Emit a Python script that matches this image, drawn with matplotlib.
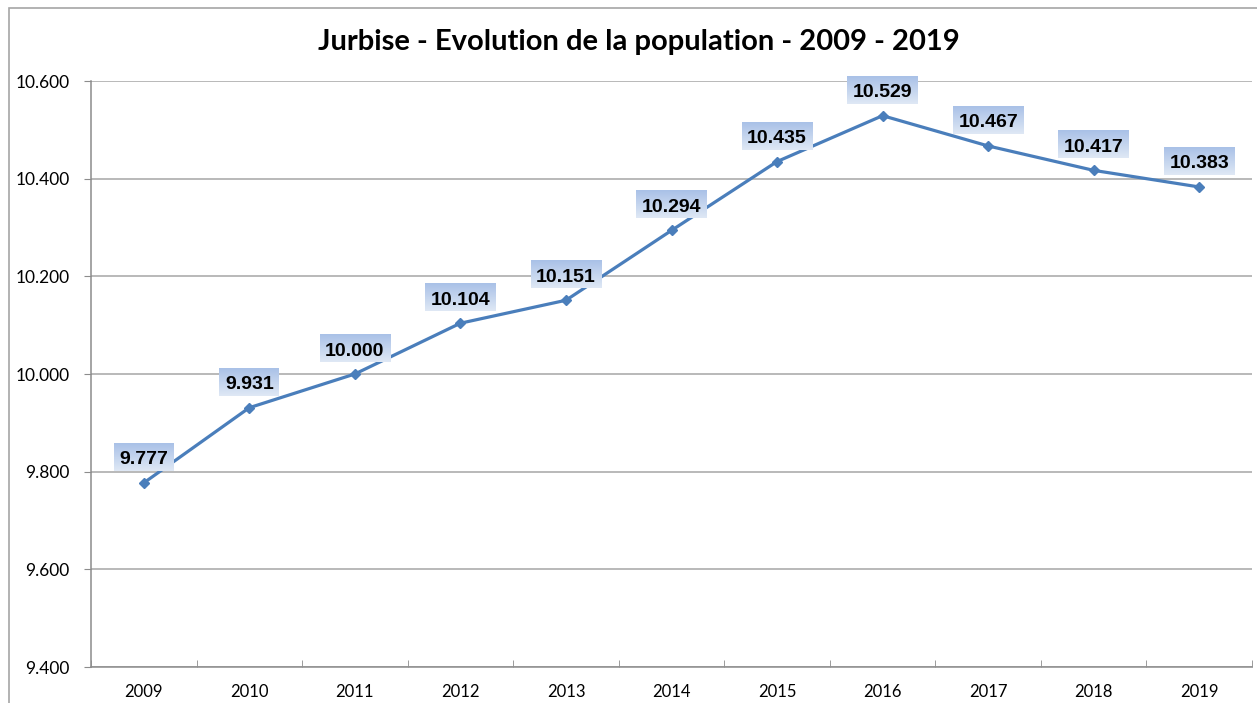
import matplotlib
matplotlib.use("Agg")
import matplotlib.pyplot as plt
import numpy as np
from matplotlib.patches import Rectangle
from matplotlib.ticker import FuncFormatter, FixedLocator
from matplotlib.colors import LinearSegmentedColormap

years = ["2009", "2010", "2011", "2012", "2013", "2014", "2015", "2016", "2017", "2018", "2019"]
population = [9777, 9931, 10000, 10104, 10151, 10294, 10435, 10529, 10467, 10417, 10383]
title = "Jurbise - Evolution de la population - 2009 - 2019"

def fmt(v):
    return f"{int(round(v)):,}".replace(",", ".")

W, H = 1257, 703
fig = plt.figure(figsize=(W / 100, H / 100), dpi=100)
fig.patch.set_facecolor("white")

fig.patches.append(Rectangle((9 / W, -0.01), 1.02, 1 - 8 / H + 0.01, transform=fig.transFigure,
                             fill=False, edgecolor="#a6a6a6", linewidth=1.2))

left, right, top, bottom = 91, 1252, 81, 667
ax = fig.add_axes([left / W, 1 - bottom / H, (right - left) / W, (bottom - top) / H])

x = list(range(len(years)))
ax.plot(x, population, color="#4a7ebb", linewidth=2.3, marker="D", markersize=5.5,
        markerfacecolor="#4a7ebb", markeredgecolor="#4a7ebb", zorder=3)

xlim = (-0.5, len(years) - 0.5)
ylim = (9400, 10600)
ax.set_xlim(*xlim)
ax.set_ylim(*ylim)
ax.yaxis.set_major_locator(FixedLocator([9400, 9600, 9800, 10000, 10200, 10400, 10600]))
ax.yaxis.set_major_formatter(FuncFormatter(lambda v, p: fmt(v)))
ax.set_xticks(x)
ax.set_xticklabels(years)
ax.set_xticks([i - 0.5 for i in range(len(years) + 1)], minor=True)
ax.tick_params(axis="x", which="major", length=0, pad=12, labelsize=12)
ax.tick_params(axis="x", which="minor", length=5, color="#8c8c8c", direction="in")
ax.tick_params(axis="y", length=5, color="#8c8c8c", pad=10.5, labelsize=12.5)
for lab in ax.get_xticklabels() + ax.get_yticklabels():
    lab.set_fontfamily("Lato")

ax.grid(axis="y", color="#a6a6a6", linewidth=1.1, zorder=0)
ax.set_axisbelow(True)
for s in ["top", "right"]:
    ax.spines[s].set_visible(False)
for s in ["left", "bottom"]:
    ax.spines[s].set_color("#8c8c8c")
    ax.spines[s].set_linewidth(1.1)

texts = []
for xi, v in zip(x, population):
    t = ax.annotate(fmt(v), (xi, v), xytext=(0, 23), textcoords="offset pixels",
                    ha="center", va="center", fontsize=14, fontweight="bold",
                    fontfamily="Liberation Sans", color="black", zorder=5,
                    annotation_clip=False)
    texts.append(t)

fig.text(639 / W, 1 - 42 / H, title, ha="center", va="center", fontsize=21,
         fontweight="bold", fontfamily="Lato")

# gradient label boxes (dark top, light bottom)
fig.canvas.draw()
cmap = LinearSegmentedColormap.from_list("lbl", ["#dfe8f5", "#a9c1e7"])
grad = np.linspace(0, 1, 64).reshape(-1, 1)
inv = ax.transData.inverted()
for t in texts:
    bb = t.get_window_extent()
    cx = (bb.x0 + bb.x1) / 2
    cy = (bb.y0 + bb.y1) / 2 + 3
    w = bb.width + 11
    h = 28
    (x0, y0) = inv.transform((cx - w / 2, cy - h / 2))
    (x1, y1) = inv.transform((cx + w / 2, cy + h / 2))
    im = ax.imshow(grad, cmap=cmap, extent=(x0, x1, y0, y1), origin="lower",
                   aspect="auto", zorder=4, interpolation="bilinear")
    im.set_clip_on(False)

ax.set_xlim(*xlim)
ax.set_ylim(*ylim)

fig.savefig("out.png", dpi=100)
